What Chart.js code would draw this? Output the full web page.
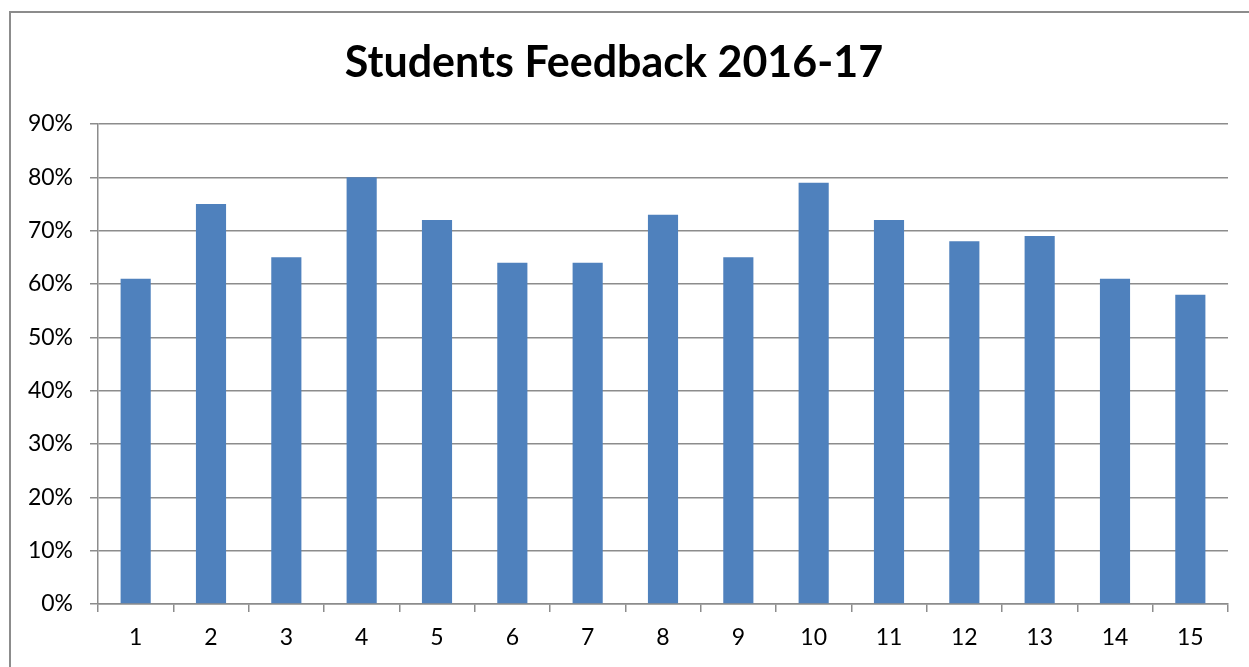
<!DOCTYPE html>
<html>
<head>
<meta charset="utf-8">
<script src="https://cdn.jsdelivr.net/npm/chart.js@4"></script>
<style>
  html, body { margin: 0; padding: 0; background: #fff; overflow: hidden; }
  #wrap { position: absolute; left: 0; top: 0; width: 1249px; height: 667px; }
</style>
</head>
<body>
<div id="wrap"><canvas id="feedbackChart"></canvas></div>
<script>
// Datos del gráfico
const preguntas = ['1', '2', '3', '4', '5', '6', '7', '8', '9', '10', '11', '12', '13', '14', '15'];
const porcentajes = [61, 75, 65, 80, 72, 64, 64, 73, 65, 79, 72, 68, 69, 61, 58];
const tituloGrafico = 'Students Feedback 2016-17';
const marcasY = [0, 10, 20, 30, 40, 50, 60, 70, 80, 90];

// Marco gris alrededor del gráfico
const marco = {
  id: 'marco',
  beforeDraw(chart) {
    const ctx = chart.ctx;
    ctx.save();
    ctx.fillStyle = '#fff';
    ctx.fillRect(0, 0, chart.width, chart.height);
    ctx.strokeStyle = '#8c8c8c';
    ctx.lineWidth = 2;
    ctx.strokeRect(10, 12, chart.width + 20, chart.height + 20);
    ctx.restore();
  }
};

const fuente = "Lato, 'Liberation Sans', sans-serif";

new Chart(document.getElementById('feedbackChart'), {
  type: 'bar',
  data: {
    labels: preguntas,
    datasets: [{
      label: 'Feedback',
      data: porcentajes,
      backgroundColor: '#4F81BD',
      barPercentage: 0.8,
      categoryPercentage: 0.5
    }]
  },
  options: {
    responsive: true,
    maintainAspectRatio: false,
    animation: false,
    layout: { padding: { left: 0, right: 21, top: 0, bottom: 0 } },
    plugins: {
      legend: { display: false },
      tooltip: { enabled: false },
      title: {
        display: true,
        text: tituloGrafico,
        color: '#000',
        font: { family: fuente, size: 43, weight: 'bold', lineHeight: 1.2 },
        padding: { top: 37, bottom: 35.4 }
      }
    },
    scales: {
      x: {
        grid: {
          offset: true,
          drawOnChartArea: false,
          drawTicks: true,
          tickLength: 8,
          color: '#8c8c8c',
          lineWidth: 1.5
        },
        border: { color: '#8c8c8c', width: 1.5 },
        ticks: { color: '#000', font: { family: fuente, size: 23 }, padding: 12, maxRotation: 0 },
        afterFit(scale) { scale.height = 63; }
      },
      y: {
        min: 0,
        max: 90,
        afterBuildTicks(scale) { scale.ticks = marcasY.map(v => ({ value: v })); },
        grid: { color: '#8c8c8c', lineWidth: 1.5, tickLength: 8 },
        border: { color: '#8c8c8c', width: 1.5 },
        ticks: {
          color: '#000',
          font: { family: fuente, size: 23 },
          padding: 17,
          callback: v => v + '%'
        },
        afterFit(scale) { scale.width = 98; }
      }
    }
  },
  plugins: [marco]
});
</script>
</body>
</html>
